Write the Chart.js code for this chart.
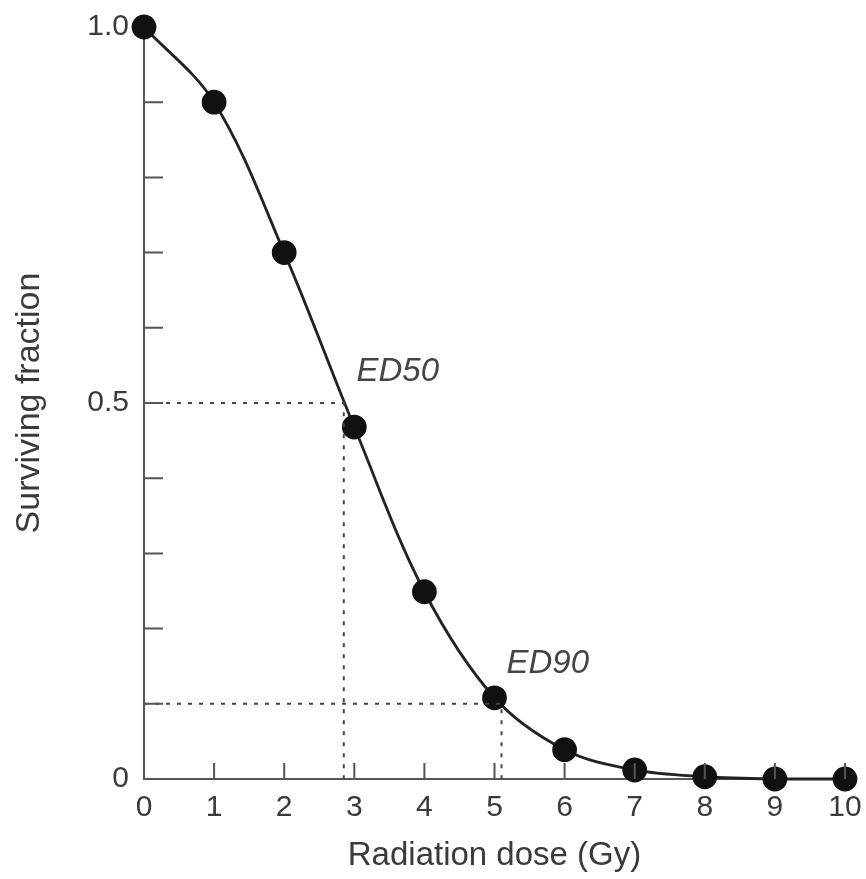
<!DOCTYPE html>
<html lang="en">
<head>
  <meta charset="UTF-8">
  <title>Surviving fraction vs radiation dose</title>
  <script src="https://cdn.jsdelivr.net/npm/chart.js@4.4.0"></script>
  <style>
    body {
      margin: 0;
      background: #fff;
    }
    .chart-block {
      width: 866px;
      height: 879px;
    }
  </style>
</head>
<body>
  <div class="chart-block">
    <canvas id="chartSurvival"></canvas>
  </div>

  <script>
    const doses = [0, 1, 2, 3, 4, 5, 6, 7, 8, 9, 10];
    const survival = [1.0, 0.90, 0.70, 0.468, 0.249, 0.108, 0.039, 0.012, 0.003, 0.0, 0.0];
    const edNames = ['ED50', 'ED90'];
    const edLevels = [0.5, 0.1];
    const edDoses = [2.85, 5.1];
    const edLabelPos = [[3.62, 0.541], [5.76, 0.153]];
    const yTickLabels = { 0: '0', 0.5: '0.5', 1: '1.0' };

    const axisColor = '#555';
    const textColor = '#3a3a3a';
    const fontFamily = '"Liberation Sans", Arial, sans-serif';

    const refSets = edLevels.map((lvl, i) => ({
      label: edNames[i],
      data: [{ x: 0, y: lvl }, { x: edDoses[i], y: lvl }, { x: edDoses[i], y: 0 }],
      borderColor: '#444',
      borderWidth: 2,
      borderDash: [4, 7],
      pointRadius: 0,
      tension: 0,
      clip: false
    }));

    // inward tick marks + ED labels
    const extras = {
      id: 'extras',
      afterDatasetsDraw(chart) {
        const { ctx, scales: { x, y } } = chart;
        ctx.save();
        ctx.strokeStyle = axisColor;
        ctx.lineWidth = 2;
        ctx.beginPath();
        for (let d = 1; d <= 10; d++) {
          const px = x.getPixelForValue(d);
          ctx.moveTo(px, y.bottom);
          ctx.lineTo(px, y.bottom - 16);
        }
        for (let k = 1; k <= 9; k++) {
          const py = y.getPixelForValue(k / 10);
          ctx.moveTo(x.left, py);
          ctx.lineTo(x.left + 19, py);
        }
        ctx.stroke();

        ctx.fillStyle = '#444';
        ctx.font = 'italic 33px ' + fontFamily;
        ctx.textAlign = 'center';
        ctx.textBaseline = 'middle';
        edNames.forEach((name, i) => {
          ctx.fillText(name, x.getPixelForValue(edLabelPos[i][0]), y.getPixelForValue(edLabelPos[i][1]));
        });
        ctx.restore();
      }
    };

    new Chart(document.getElementById('chartSurvival'), {
      type: 'line',
      data: {
        datasets: [
          ...refSets,
          {
            label: 'Surviving fraction',
            data: doses.map((d, i) => ({ x: d, y: survival[i] })),
            borderColor: '#222',
            borderWidth: 2.8,
            backgroundColor: '#111',
            pointBackgroundColor: '#111',
            pointBorderColor: '#111',
            pointRadius: 11,
            tension: 0.35,
            clip: false
          }
        ]
      },
      plugins: [extras],
      options: {
        responsive: true,
        maintainAspectRatio: false,
        animation: false,
        layout: { padding: { top: 27, right: 21, left: 0, bottom: 0 } },
        plugins: {
          legend: { display: false },
          tooltip: { enabled: false }
        },
        scales: {
          x: {
            type: 'linear',
            min: 0,
            max: 10,
            afterFit: s => { s.height = 100; s.paddingLeft = 0; s.paddingRight = 0; },
            grid: { display: false, drawTicks: false },
            border: { display: true, color: axisColor, width: 2 },
            ticks: {
              stepSize: 1,
              padding: 11,
              color: textColor,
              font: { family: fontFamily, size: 30 }
            },
            title: {
              display: true,
              text: 'Radiation dose (Gy)',
              color: textColor,
              padding: { top: 0, bottom: 3 },
              font: { family: fontFamily, size: 33 }
            }
          },
          y: {
            min: 0,
            max: 1,
            afterFit: s => { s.width = 144; s.paddingTop = 0; s.paddingBottom = 0; },
            grid: { display: false, drawTicks: false },
            border: { display: true, color: axisColor, width: 2 },
            ticks: {
              stepSize: 0.5,
              padding: 15,
              color: textColor,
              font: { family: fontFamily, size: 30 },
              callback: v => yTickLabels[v] ?? ''
            },
            title: {
              display: true,
              text: 'Surviving fraction',
              color: textColor,
              padding: { top: 9, bottom: 0 },
              font: { family: fontFamily, size: 34 }
            }
          }
        }
      }
    });
  </script>
</body>
</html>
